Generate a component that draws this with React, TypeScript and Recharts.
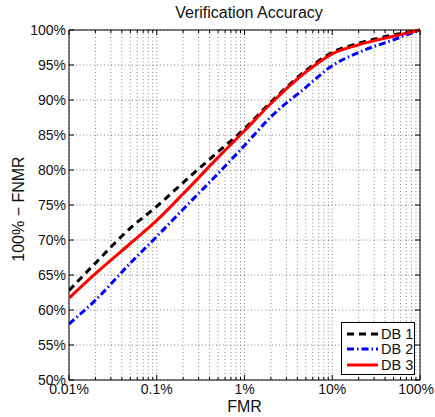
import React from "react";
import { LineChart, Line, XAxis, YAxis, CartesianGrid, ReferenceArea, Label } from "recharts";

const FMR = [0.01, 0.02, 0.05, 0.1, 0.2, 0.5, 1, 2, 5, 10, 20, 50, 100];
const DB1 = [62.8, 66.7, 71.7, 74.8, 78.2, 82.6, 85.9, 89.7, 94.2, 96.8, 98.1, 99.3, 100];
const DB2 = [58.0, 61.4, 66.7, 70.5, 74.4, 79.5, 83.5, 87.6, 91.8, 94.9, 96.8, 98.6, 100];
const DB3 = [61.7, 65.2, 69.5, 72.8, 76.6, 81.8, 85.6, 89.5, 94.0, 96.6, 97.9, 99.1, 100];

const MAJOR_X = [0.01, 0.1, 1, 10, 100];
const MAJOR_X_LABELS = ["0.01%", "0.1%", "1%", "10%", "100%"];
const X_TICKS = [
  0.01, 0.02, 0.03, 0.04, 0.05, 0.06, 0.07, 0.08, 0.09,
  0.1, 0.2, 0.3, 0.4, 0.5, 0.6, 0.7, 0.8, 0.9,
  1, 2, 3, 4, 5, 6, 7, 8, 9,
  10, 20, 30, 40, 50, 60, 70, 80, 90, 100,
];
const Y_TICKS = [50, 55, 60, 65, 70, 75, 80, 85, 90, 95, 100];

const SERIES = [
  { key: "db1", name: "DB 1", color: "#000000", dash: "7 5", values: DB1 },
  { key: "db2", name: "DB 2", color: "#0000ff", dash: "7 3 1.5 3", values: DB2 },
  { key: "db3", name: "DB 3", color: "#ff0000", dash: undefined, values: DB3 },
];

const data = FMR.map((f, i) => ({ fmr: f, db1: DB1[i], db2: DB2[i], db3: DB3[i] }));

const W = 435;
const H = 417;
const PLOT = { left: 69, right: 420, top: 30, bottom: 380 };
const FONT = '"Liberation Sans", Arial, Helvetica, sans-serif';

function XTick(props: any) {
  const { x, y, payload } = props;
  const idx = MAJOR_X.indexOf(payload.value);
  const len = idx >= 0 ? 5 : 3;
  // last label would run off the page, pin it to the right edge like the original
  const last = idx === MAJOR_X.length - 1;
  return (
    <g>
      <line x1={x} x2={x} y1={PLOT.bottom} y2={PLOT.bottom - len} stroke="#000" />
      <line x1={x} x2={x} y1={PLOT.top} y2={PLOT.top + len} stroke="#000" />
      {idx >= 0 && (
        <text
          x={last ? W - 1 : x}
          y={y}
          dy="0.71em"
          textAnchor={last ? "end" : "middle"}
          fontSize={14}
          fontFamily={FONT}
          fill="#111"
        >
          {MAJOR_X_LABELS[idx]}
        </text>
      )}
    </g>
  );
}

function YTick(props: any) {
  const { x, y, payload } = props;
  return (
    <g>
      <line x1={PLOT.left} x2={PLOT.left + 5} y1={y} y2={y} stroke="#000" />
      <line x1={PLOT.right} x2={PLOT.right - 5} y1={y} y2={y} stroke="#000" />
      <text x={x} y={y} dy="0.355em" textAnchor="end" fontSize={14} fontFamily={FONT} fill="#111">
        {payload.value}%
      </text>
    </g>
  );
}

function YLabel() {
  const cx = 18.5;
  const cy = 209;
  return (
    <text
      x={cx}
      y={cy}
      dy="0.355em"
      transform={`rotate(-90 ${cx} ${cy})`}
      textAnchor="middle"
      fontSize={16}
      fontFamily={FONT}
      fill="#111"
    >
      100% − FNMR
    </text>
  );
}

export default function App() {
  return (
    <div style={{ position: "absolute", left: 0, top: 0, width: W, height: H, background: "#fff", fontFamily: FONT }}>
      <div style={{ position: "absolute", left: 0, width: 498, top: 4, textAlign: "center", fontSize: 16, color: "#111" }}>
        Verification Accuracy
      </div>
      <LineChart width={W} height={H} data={data} margin={{ top: 30, right: 15, bottom: 0, left: 0 }}>
        <CartesianGrid stroke="#555" strokeWidth={0.7} strokeDasharray="1 2.5" />
        <XAxis
          dataKey="fmr"
          type="number"
          scale="log"
          domain={[0.01, 100]}
          ticks={X_TICKS}
          interval={0}
          allowDataOverflow
          height={37}
          tickSize={0}
          tickMargin={4}
          axisLine={false}
          tick={<XTick />}
        >
          <Label value="FMR" position="insideBottom" offset={5} fontSize={16} fontFamily={FONT} fill="#111" />
        </XAxis>
        <YAxis
          type="number"
          domain={[50, 100]}
          ticks={Y_TICKS}
          interval={0}
          width={69}
          tickSize={0}
          tickMargin={3}
          axisLine={false}
          tick={<YTick />}
        >
          <Label content={<YLabel />} />
        </YAxis>
        <ReferenceArea x1={0.01} x2={100} y1={50} y2={100} fill="none" stroke="#000" strokeWidth={1} />
        {SERIES.map((s) => (
          <Line
            key={s.key}
            dataKey={s.key}
            name={s.name}
            type="monotone"
            stroke={s.color}
            strokeWidth={3}
            strokeDasharray={s.dash}
            dot={false}
            isAnimationActive={false}
          />
        ))}
      </LineChart>
      <div
        style={{
          position: "absolute",
          left: 341,
          top: 322,
          width: 74,
          height: 53,
          border: "1px solid #000",
          background: "#fff",
          boxSizing: "border-box",
          padding: "3px 0 0 5px",
        }}
      >
        {SERIES.map((s) => (
          <div key={s.key} style={{ display: "flex", alignItems: "center", height: 15.5, fontSize: 14.5, color: "#111" }}>
            <svg width={31} height={6} style={{ marginRight: 3 }}>
              <line x1={0} x2={31} y1={3} y2={3} stroke={s.color} strokeWidth={3} strokeDasharray={s.dash} />
            </svg>
            <span>{s.name}</span>
          </div>
        ))}
      </div>
    </div>
  );
}
